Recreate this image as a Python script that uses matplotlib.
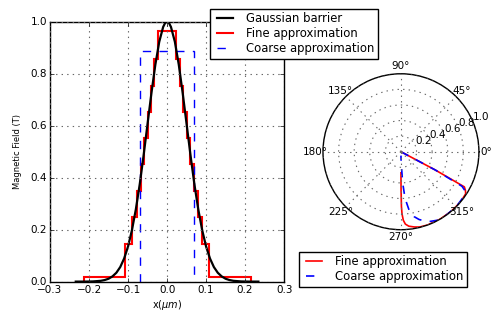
import numpy as np
import matplotlib
matplotlib.use("Agg")
import matplotlib.pyplot as plt

plt.style.use('classic')
plt.rcParams['font.family'] = ['DejaVu Sans']
plt.rcParams['mathtext.fontset'] = 'dejavusans'

# gaussian barrier
gauss_x = [-0.234, -0.21, -0.19, -0.17, -0.16, -0.15, -0.14, -0.13, -0.12, -0.11, -0.10,
           -0.09, -0.08, -0.07, -0.06, -0.05, -0.04, -0.03, -0.02, -0.01, -0.005, 0.0,
           0.005, 0.01, 0.02, 0.03, 0.04, 0.05, 0.06, 0.07, 0.08, 0.09,
           0.10, 0.11, 0.12, 0.13, 0.14, 0.15, 0.16, 0.17, 0.19, 0.21, 0.234]
gauss_y = [0.0, 0.0001, 0.0007, 0.003, 0.006, 0.011, 0.020, 0.034, 0.056, 0.089, 0.135,
           0.198, 0.278, 0.375, 0.487, 0.607, 0.726, 0.835, 0.923, 0.980, 0.995, 1.0,
           0.995, 0.980, 0.923, 0.835, 0.726, 0.607, 0.487, 0.375, 0.278, 0.198,
           0.135, 0.089, 0.056, 0.034, 0.020, 0.011, 0.006, 0.003, 0.0007, 0.0001, 0.0]

# fine approximation: step edges and levels
fine_edges = [-0.214, -0.107, -0.090, -0.078, -0.068, -0.059, -0.050, -0.042, -0.033, -0.023,
              0.023, 0.033, 0.042, 0.050, 0.059, 0.068, 0.078, 0.090, 0.107, 0.214]
fine_vals = [0.018, 0.145, 0.247, 0.349, 0.451, 0.554, 0.651, 0.754, 0.858, 0.965,
             0.858, 0.754, 0.651, 0.554, 0.451, 0.349, 0.247, 0.145, 0.018]

# coarse approximation
coarse_edges = [-0.069, 0.069]
coarse_vals = [0.887]

# polar curves (angle in degrees, radius)
fine_th = [-28, -28, -29, -31, -33, -40, -50, -60, -70, -76, -80, -84, -86.5, -88, -89, -89.5, -89.8, -90]
fine_r = [0.0, 0.5, 0.93, 0.965, 0.99, 1.0, 1.0, 1.0, 1.0, 0.995, 0.98, 0.96, 0.93, 0.88, 0.8, 0.7, 0.5, 0.27]
coarse_th = [-28, -28, -29.5, -31, -33, -36, -45, -55, -62, -67, -71, -75, -78.5, -82, -85, -86.8, -88, -89, -90]
coarse_r = [0.0, 0.5, 0.9, 0.95, 0.97, 0.99, 1.0, 1.0, 0.995, 0.97, 0.94, 0.9, 0.85, 0.76, 0.6, 0.4, 0.2, 0.1, 0.05]

fig = plt.figure(figsize=(4.95, 3.15), dpi=100, facecolor='white')

ax = fig.add_axes([0.101, 0.106, 0.473, 0.825])
ax.set_facecolor('white')
ax.plot(gauss_x, gauss_y, 'k-', lw=1.6, label='Gaussian barrier')
ax.stairs(fine_vals, fine_edges, baseline=0, color='r', lw=1.5, label='Fine approximation')
ax.stairs(coarse_vals, coarse_edges, baseline=0, color='b', ls='--', lw=1.0,
          label='Coarse approximation')
ax.set_xlim(-0.3, 0.3)
ax.set_ylim(0, 1.0)
ax.set_xticks(np.arange(-0.3, 0.31, 0.1))
ax.set_yticks(np.arange(0, 1.01, 0.2))
ax.grid(True, color='0.4', ls=':', lw=0.8)
ax.tick_params(labelsize=7.5, length=3)
ax.tick_params(axis='x', pad=2.5)
ax.tick_params(axis='y', pad=2)
ax.set_xlabel(r'x($\mu m$)', fontsize=7, labelpad=2)
ax.set_ylabel('Magnetic Field (T)', fontsize=6.0, labelpad=6)

h1 = plt.Line2D([], [], color='k', lw=1.6)
h2 = plt.Line2D([], [], color='r', lw=1.5)
h3 = plt.Line2D([], [], color='b', ls='--', lw=1.0)
fig.legend([h1, h2, h3], ['Gaussian barrier', 'Fine approximation', 'Coarse approximation'],
           loc='upper left', bbox_to_anchor=(210 / 495, 1 - 9 / 315), borderaxespad=0,
           fontsize=8.4, fancybox=False, shadow=False, framealpha=1, handlelength=2.0,
           labelspacing=0.15, borderpad=0.3)

pax = fig.add_axes([0.6525, 0.2708, 0.315, 0.495], projection='polar')
pax.set_facecolor('white')
pax.plot(np.deg2rad(fine_th), fine_r, 'r-', lw=1.2, label='Fine approximation')
pax.plot(np.deg2rad(coarse_th), coarse_r, 'b--', lw=1.2, label='Coarse approximation')
pax.set_ylim(0, 1.0)
pax.set_yticks([0.2, 0.4, 0.6, 0.8, 1.0])
pax.set_yticklabels(['0.2', '0.4', '0.6', '0.8', '1.0'])
pax.set_rlabel_position(22.5)
pax.set_thetagrids(np.arange(0, 360, 45), ['0°', '45°', '90°', '135°', '180°', '225°', '270°', '315°'])
pax.grid(True, color='0.4', ls=':', lw=0.8)
pax.tick_params(labelsize=7.5)
pax.tick_params(axis='x', pad=-1.5)

ph2 = plt.Line2D([], [], color='r', lw=1.2)
ph3 = plt.Line2D([], [], color='b', ls='--', lw=1.2)
fig.legend([ph2, ph3], ['Fine approximation', 'Coarse approximation'],
           loc='upper left', bbox_to_anchor=(299 / 495, 1 - 252 / 315), borderaxespad=0,
           fontsize=8.4, fancybox=False, shadow=False, framealpha=1, handlelength=2.0,
           labelspacing=0.15, borderpad=0.3)

fig.savefig('out.png', dpi=100, facecolor='white')
